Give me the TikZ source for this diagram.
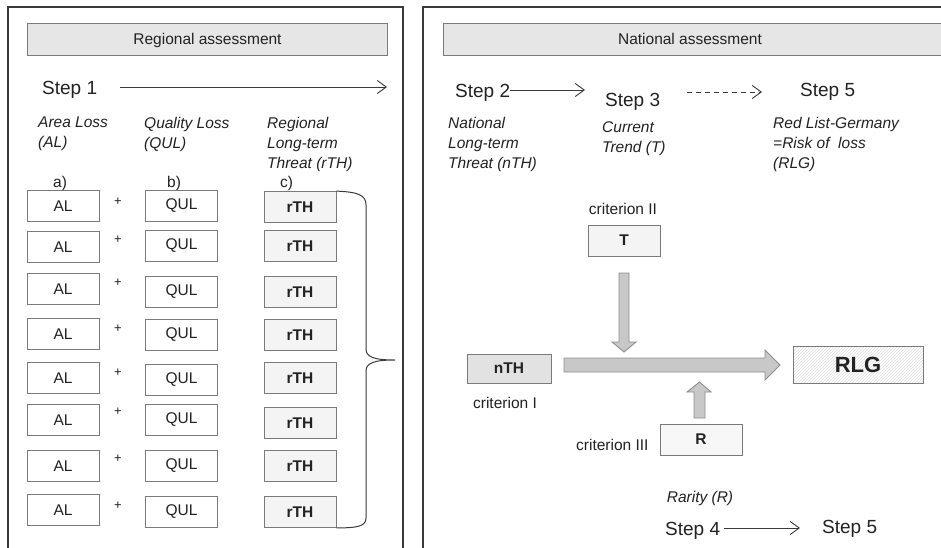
\documentclass[tikz,border=0pt]{standalone}
\usepackage{fontspec}
\setmainfont{Liberation Sans}
\usetikzlibrary{arrows.meta,patterns}
\definecolor{txt}{HTML}{222222}
\definecolor{frm}{HTML}{3A3A3A}
\definecolor{bx}{HTML}{7A7A7A}
\definecolor{hdrfill}{HTML}{E6E6E6}
\definecolor{rfill}{HTML}{F4F4F4}
\definecolor{nfill}{HTML}{E2E2E2}
\definecolor{blkf}{HTML}{C8C8C8}
\definecolor{blkd}{HTML}{8E8E8E}
\begin{document}
\begin{tikzpicture}[x=1pt,y=-1pt,
 every node/.style={font=\fontsize{15.5}{20}\selectfont, text=txt, inner sep=0pt},
 frame/.style={draw=frm, line width=1.1pt},
 hdr/.style={draw=bx, fill=hdrfill, line width=0.8pt},
 bbox/.style={draw=bx, line width=0.8pt, minimum width=72pt, minimum height=31pt, fill=white},
 rbox/.style={bbox, fill=rfill, font=\fontsize{15.5}{20}\selectfont\bfseries},
 lab/.style={align=left, anchor=north west, font=\fontsize{15.5}{20}\selectfont\itshape},
 stepl/.style={anchor=base west, font=\fontsize{19}{22}\selectfont},
 arr/.style={draw=frm, line width=0.9pt, -{Straight Barb[length=9pt,width=13pt]}},
 blk/.style={draw=blkd, fill=blkf, line width=0.9pt},
 plain/.style={anchor=base}
]
\useasboundingbox (0,0) rectangle (941,548);
\fill[white] (0,0) rectangle (941,548);

% ---------- left panel ----------
\draw[frame] (8,560) -- (8,7) -- (403,7) -- (403,560);
\node[hdr, minimum width=360pt, minimum height=32pt] (rh) at (207,39) {};
\node[plain] (rht) at (207.5,45) {Regional assessment};

\node[stepl] (s1) at (42,95) {Step 1};
\coordinate (s1a) at (120,87);
\coordinate (s1b) at (387,87);
\draw[arr] (s1a) -- (s1b);

\node[lab] (lal) at (38,117) {Area Loss\\(AL)};
\node[lab] (lqul) at (144,117) {Quality Loss\\(QUL)};
\node[lab] (lrth) at (267,117) {Regional\\Long-term\\Threat (rTH)};

\node[anchor=base west] (la) at (53,187) {a)};
\node[anchor=base west] (lb) at (167,187) {b)};
\node[anchor=base west] (lc) at (280,187) {c)};

\foreach \i/\ya/\yq/\yr/\yp in {1/206/206/207/202, 2/247/246/246/240, 3/289/292/292/283, 4/334/335/335/329, 5/378/380/378/373, 6/420/420/423/412, 7/466/466/466/459, 8/510/512/512/506}{
  \node[bbox] (al\i) at (63,\ya) {AL};
  \node[font=\fontsize{13}{14}\selectfont] (pl\i) at (118,\yp) {+};
  \node[bbox] (qul\i) at (181.5,\yq) {QUL};
  \node[rbox] (rth\i) at (300,\yr) {rTH};
}

\coordinate (btip) at (395,360);
\draw[frame, line width=1pt] (rth1.north east) .. controls (358,192) and (366,195) .. (366,205)
  -- (366,349) .. controls (366,357) and (374,360) .. (btip)
  .. controls (374,360) and (366,363) .. (366,371)
  -- (366,518) .. controls (366,526) and (358,528) .. (rth8.south east);

% ---------- right panel ----------
\draw[frame] (423,560) -- (423,7) -- (945,7);
\draw[hdr] (443,23) rectangle (950,55);
\node[plain] (nht) at (690,45) {National assessment};

\node[stepl] (s2) at (455,98) {Step 2};
\node[stepl] (s3) at (605,107) {Step 3};
\node[stepl] (s5) at (800,97) {Step 5};
\coordinate (s2a) at (510,90);
\coordinate (s2b) at (585,90);
\draw[arr] (s2a) -- (s2b);
\coordinate (s3a) at (687,92);
\coordinate (s3b) at (762,92);
\draw[arr, dash pattern=on 5pt off 4pt] (s3a) -- (s3b);

\node[lab] (lnth) at (448,117) {National\\Long-term\\Threat (nTH)};
\node[lab] (lt) at (602,121) {Current\\Trend (T)};
\node[lab] (lrlg) at (773,117) {Red List-Germany\\=Risk of\ \ loss\\(RLG)};

\node[plain] (c2) at (623,214) {criterion II};
\node[bbox, fill=rfill, font=\fontsize{15.5}{20}\selectfont\bfseries] (T) at (624,240.5) {T};

% block arrows
\draw[blk] (619,273) -- (629,273) -- (629,342) -- (636,342) -- (624,352) -- (612,342) -- (619,342) -- cycle;
\draw[blk] (564,358) -- (765,358) -- (765,350) -- (780,365) -- (765,380) -- (765,372) -- (564,372) -- cycle;
\draw[blk] (694,418) -- (694,392) -- (687,392) -- (699.5,382) -- (711,392) -- (705,392) -- (705,418) -- cycle;

\node[draw=bx, fill=nfill, line width=0.8pt, minimum width=84pt, minimum height=29pt, font=\fontsize{15.5}{20}\selectfont\bfseries] (nth) at (509,368.5) {nTH};
\node[plain] (c1) at (505,408) {criterion I};

\node[draw=bx, line width=0.8pt, minimum width=130pt, minimum height=37pt,
  preaction={fill=white}, pattern=north east lines, pattern color=black!12,
  font=\fontsize{22}{24}\selectfont\bfseries] (rlg) at (858,364.5) {RLG};

\node[bbox, fill=white!97!black, minimum width=82pt, font=\fontsize{15.5}{20}\selectfont\bfseries] (R) at (701,439.5) {R};
\node[anchor=base west] (c3) at (576,450) {criterion III};

\node[plain, font=\fontsize{15.5}{20}\selectfont\itshape] (rar) at (700,502) {Rarity (R)};

\node[stepl] (s4) at (665,535) {Step 4};
\node[stepl] (s5b) at (822,533) {Step 5};
\coordinate (s4a) at (724,528);
\coordinate (s4b) at (800,528);
\draw[arr] (s4a) -- (s4b);
\end{tikzpicture}
\end{document}
